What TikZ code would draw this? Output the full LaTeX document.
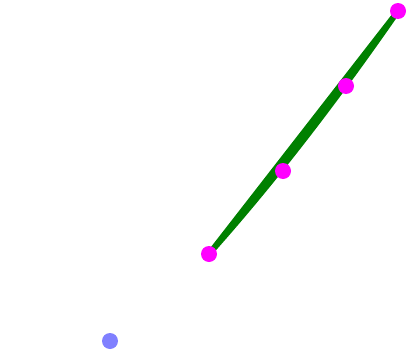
\documentclass[tikz,border=0pt]{standalone}
\definecolor{dkgreen}{RGB}{0,128,0}
\definecolor{ptblue}{RGB}{128,128,255}
\definecolor{ptmag}{RGB}{255,0,255}
\begin{document}
\begin{tikzpicture}[x=1pt,y=-1pt,
  ctrl/.style={circle,fill=ptmag,draw=none,inner sep=0pt,minimum size=16pt},
  lone/.style={circle,fill=ptblue,draw=none,inner sep=0pt,minimum size=16pt},
  band/.style={fill=dkgreen,draw=dkgreen,line width=5.5pt,line join=round}]
\useasboundingbox (0,0) rectangle (407,356);
\coordinate (c0) at (209,254);
\coordinate (c1) at (283,171);
\coordinate (c2) at (346,86);
\coordinate (c3) at (398,11);
\filldraw[band] (c0) .. controls (c1) and (c2) .. (c3) -- cycle;
\node[ctrl] (p0) at (c0) {};
\node[ctrl] (p1) at (c1) {};
\node[ctrl] (p2) at (c2) {};
\node[ctrl] (p3) at (c3) {};
\node[lone] (q) at (110,341) {};
\end{tikzpicture}
\end{document}
